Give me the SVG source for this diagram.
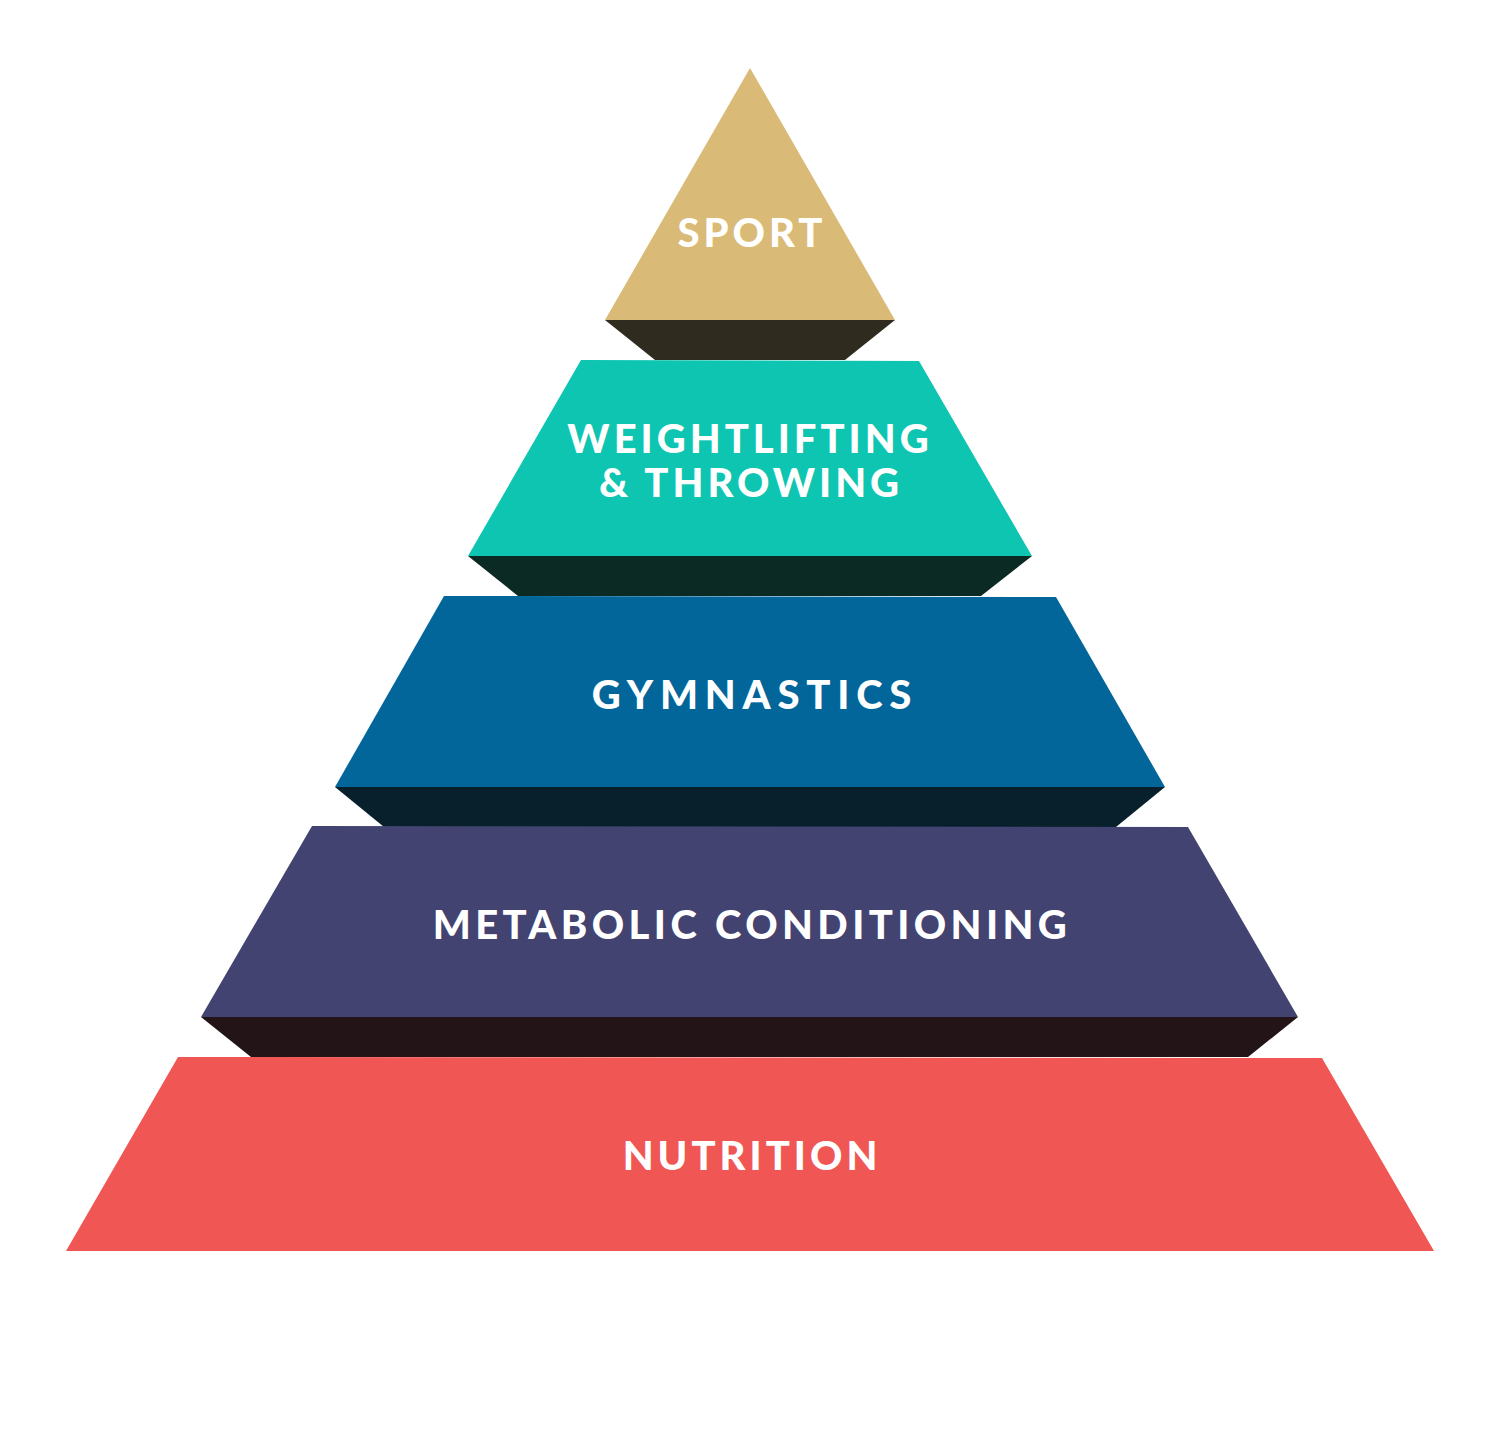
<svg xmlns="http://www.w3.org/2000/svg" width="1500" height="1442" viewBox="0 0 1500 1442">
<style>
.lbl{font-family:Lato,"Open Sans","Liberation Sans",sans-serif;font-weight:900;font-size:40px;fill:#fff;text-anchor:middle;letter-spacing:4px}
</style>
<rect width="1500" height="1442" fill="#fff"/>
<g id="sport">
<polygon points="605,320 895,320 845,360 655,360" fill="#2F2B1F"/>
<polygon points="750,68 895,320 605,320" fill="#D9BA76"/>
<text class="lbl" x="752" y="247">SPORT</text>
</g>
<g id="weightlifting">
<polygon points="468,556 1032,556 981,596 518,596" fill="#0C2A24"/>
<polygon points="581,360 919,361 1032,556 468,556" fill="#0DC5B1"/>
<text class="lbl" x="750" y="453">WEIGHTLIFTING</text>
<text class="lbl" x="751" y="497">&amp; THROWING</text>
</g>
<g id="gymnastics">
<polygon points="335,787 1165,787 1116,827 384,827" fill="#08202C"/>
<polygon points="444,596 1056,597 1165,787 335,787" fill="#02669A"/>
<text class="lbl" x="755" y="709" style="letter-spacing:6.8px">GYMNASTICS</text>
</g>
<g id="metabolic">
<polygon points="201,1017 1298,1017 1248,1057 251,1057" fill="#231517"/>
<polygon points="312,826 1188,827 1298,1017 201,1017" fill="#424370"/>
<text class="lbl" x="752" y="939" style="letter-spacing:4.4px">METABOLIC CONDITIONING</text>
</g>
<g id="nutrition">
<polygon points="178,1057 1322,1058 1434,1251 66,1251" fill="#F05654"/>
<text class="lbl" x="752" y="1170">NUTRITION</text>
</g>
<g id="connectors"></g>
</svg>
